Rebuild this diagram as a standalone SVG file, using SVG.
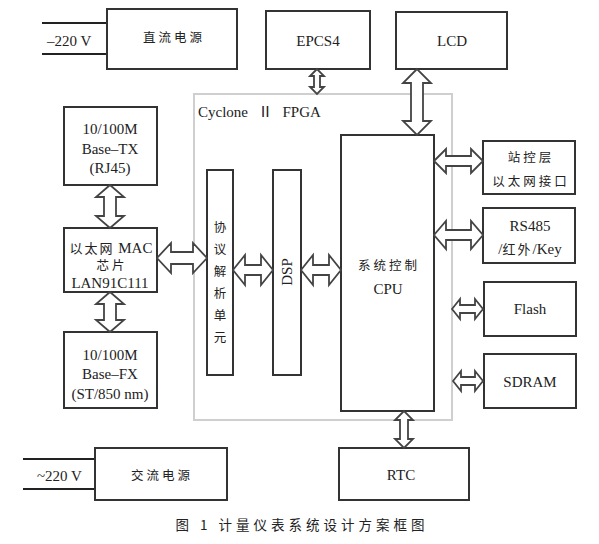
<svg xmlns="http://www.w3.org/2000/svg" width="599" height="544" viewBox="0 0 599 544">
<style>
.box{fill:#fff;stroke:#333;stroke-width:2}
.fpga{fill:none;stroke:#cfcfcf;stroke-width:2}
.t{font-family:"Liberation Serif","Noto Sans CJK SC",serif;font-size:15px;fill:#222;text-anchor:middle}
.c{font-family:"Noto Sans CJK SC",sans-serif;font-size:12.5px;fill:#222;text-anchor:middle;letter-spacing:3px}
.arr{fill:#fff;stroke:#444;stroke-width:1.8;stroke-linejoin:miter}
.wire{stroke:#222;stroke-width:2}
</style>
<rect width="599" height="544" fill="#fff"/>
<g id="fpga"><rect class="fpga" x="194" y="94" width="258" height="326"/>
<text class="t" x="198" y="117" style="text-anchor:start;word-spacing:6px">Cyclone Ⅱ FPGA</text></g>
<g id="dc"><line class="wire" x1="42" y1="23" x2="107" y2="23"/><line class="wire" x1="42" y1="54" x2="107" y2="54"/>
<text class="t" x="47" y="46" style="text-anchor:start">–220 V</text>
<rect class="box" x="107" y="9" width="130" height="60"/><text class="c" x="174" y="42">直流电源</text></g>
<g id="epcs4"><rect class="box" x="266" y="11" width="104" height="58"/><text class="t" x="318" y="46">EPCS4</text></g>
<g id="lcd"><rect class="box" x="396" y="12" width="111" height="57"/><text class="t" x="452" y="46">LCD</text></g>
<g id="tx"><rect class="box" x="64" y="107" width="93" height="78"/>
<text class="t" x="110" y="134">10/100M</text><text class="t" x="110" y="154">Base–TX</text><text class="t" x="110" y="173">(RJ45)</text></g>
<g id="mac"><rect class="box" x="64" y="228" width="93" height="64"/>
<text class="t" x="111" y="253"><tspan font-family="Noto Sans CJK SC" font-size="13" letter-spacing="2">以太网</tspan> MAC</text>
<text class="c" x="112" y="270">芯片</text><text class="t" x="110" y="288">LAN91C111</text></g>
<g id="fx"><rect class="box" x="64" y="332" width="93" height="76"/>
<text class="t" x="110" y="360">10/100M</text><text class="t" x="110" y="379">Base–FX</text><text class="t" x="110" y="399">(ST/850 nm)</text></g>
<g id="ac"><line class="wire" x1="23" y1="459" x2="95" y2="459"/><line class="wire" x1="23" y1="489" x2="95" y2="489"/>
<text class="t" x="37" y="481" style="text-anchor:start">~220 V</text>
<rect class="box" x="95" y="448" width="132" height="52"/><text class="c" x="162" y="480">交流电源</text></g>
<g id="proto"><rect class="box" x="207" y="170" width="26" height="205"/>
<text class="c" x="220" y="232" style="letter-spacing:0">协</text><text class="c" x="220" y="254" style="letter-spacing:0">议</text><text class="c" x="220" y="276" style="letter-spacing:0">解</text><text class="c" x="220" y="298" style="letter-spacing:0">析</text><text class="c" x="220" y="320" style="letter-spacing:0">单</text><text class="c" x="220" y="342" style="letter-spacing:0">元</text></g>
<g id="dsp"><rect class="box" x="273" y="170" width="28" height="205"/>
<text class="t" transform="translate(292,272) rotate(-90)">DSP</text></g>
<g id="cpu"><rect class="box" x="341" y="135" width="93" height="276"/>
<text class="c" x="389" y="270">系统控制</text><text class="t" x="388" y="294">CPU</text></g>
<g id="eth"><rect class="box" x="483" y="141" width="92" height="53"/>
<text class="c" x="531" y="162">站控层</text><text class="c" x="531" y="186">以太网接口</text></g>
<g id="rs485"><rect class="box" x="483" y="208" width="92" height="55"/>
<text class="t" x="530" y="231">RS485</text><text class="t" x="530" y="254">/<tspan font-family="Noto Sans CJK SC" font-size="13" letter-spacing="2">红外</tspan>/Key</text></g>
<g id="flash"><rect class="box" x="484" y="282" width="92" height="54"/><text class="t" x="530" y="314">Flash</text></g>
<g id="sdram"><rect class="box" x="484" y="354" width="92" height="54"/><text class="t" x="530" y="387">SDRAM</text></g>
<g id="rtc"><rect class="box" x="339" y="448" width="130" height="52"/><text class="t" x="401" y="480">RTC</text></g>
<g id="connectors">
<polygon class="arr" points="317,69 310,76 314,76 314,87 310,87 317,94 324,87 320,87 320,76 324,76"/>
<polygon class="arr" points="417,69 403,83 411,83 411,121 403,121 417,135 431,121 423,121 423,83 431,83"/>
<polygon class="arr" points="110,185 96,197 104,197 104,216 96,216 110,228 124,216 116,216 116,197 124,197"/>
<polygon class="arr" points="110,292 96,304 104,304 104,320 96,320 110,332 124,320 116,320 116,304 124,304"/>
<polygon class="arr" points="157,258 171,243 171,252 193,252 193,243 207,258 193,273 193,264 171,264 171,273"/>
<polygon class="arr" points="233,270 245,255 245,265 261,265 261,255 273,270 261,285 261,275 245,275 245,285"/>
<polygon class="arr" points="301,270 313,255 313,265 329,265 329,255 341,270 329,285 329,275 313,275 313,285"/>
<polygon class="arr" points="434,161 446,149 446,156 471,156 471,149 483,161 471,173 471,166 446,166 446,173"/>
<polygon class="arr" points="434,235 446,221 446,230 471,230 471,221 483,235 471,249 471,240 446,240 446,249"/>
<polygon class="arr" points="452,309 460,299 460,305 475,305 475,299 483,309 475,319 475,313 460,313 460,319"/>
<polygon class="arr" points="453,381 461,371 461,377 475,377 475,371 483,381 475,391 475,385 461,385 461,391"/>
<polygon class="arr" points="404,411 395,420 400,420 400,439 395,439 404,448 413,439 408,439 408,420 413,420"/>
</g>
<text class="c" x="302" y="530" style="font-size:13.5px;letter-spacing:4px">图 1 计量仪表系统设计方案框图</text>
</svg>
